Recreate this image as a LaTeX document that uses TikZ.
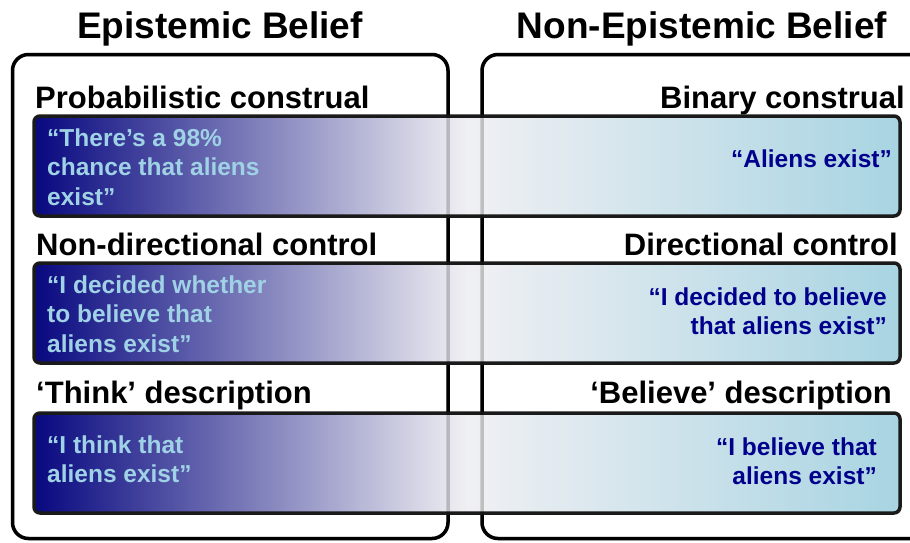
\documentclass[tikz,border=0pt]{standalone}
\usepackage{fontspec}
\setmainfont{Liberation Sans}
\usetikzlibrary{positioning}
\definecolor{barNavy}{RGB}{8,8,128}
\definecolor{barMist}{RGB}{240,240,243}
\definecolor{barSky}{RGB}{168,212,226}
\definecolor{quoteLight}{RGB}{160,210,230}
\definecolor{quoteDark}{RGB}{0,0,140}
\definecolor{edgeGray}{RGB}{26,26,26}

\begin{document}
\begin{tikzpicture}[x=1pt,y=-1pt,
  panel/.style={draw=black,line width=3.5pt,rounded corners=16pt},
  title/.style={font=\fontsize{37}{40}\selectfont\bfseries,inner sep=0pt,anchor=base},
  caption/.style={font=\fontsize{31}{34}\selectfont\bfseries,inner sep=0pt},
  bar/.style={draw=edgeGray,line width=3.5pt,rounded corners=6pt,outer sep=0pt,
    minimum width=866pt,minimum height=100pt,inner sep=0pt,
    left color=barNavy,right color=barSky,middle color=barMist},
  quote/.style={font=\fontsize{24.5}{29.5}\selectfont\bfseries,inner sep=0pt},
  epi/.style={quote,text=quoteLight,align=left,anchor=north west},
  nonepi/.style={quote,text=quoteDark,align=right,anchor=north east}
]
\useasboundingbox (0,0) rectangle (910,542);

% the two columns
\draw[panel] (12.5,54.5) rectangle (448,538.5);
\draw[panel] (482,54.5) rectangle (930,538.5);
\node[title] (epiT) at (220,38) {Epistemic Belief};
\node[title] (nonT) at (702,38) {Non-Epistemic Belief};

% the three contrast bars
\node[bar] (prob) at (467,166) {};
\node[bar] (ctrl) at (467,313) {};
\node[bar] (desc) at (467,463) {};

% column borders seen faintly through the bars
\draw[panel,draw opacity=0.2] (12.5,54.5) rectangle (448,538.5);
\draw[panel,draw opacity=0.2] (482,54.5) rectangle (930,538.5);

% row headings
\node[caption,anchor=base west] (probL) at ([xshift=1pt,yshift=8pt]prob.north west) {Probabilistic construal};
\node[caption,anchor=base east] (probR) at ([xshift=5pt,yshift=8pt]prob.north east) {Binary construal};
\node[caption,anchor=base west] (ctrlL) at ([xshift=2pt,yshift=8pt]ctrl.north west) {Non-directional control};
\node[caption,anchor=base east] (ctrlR) at ([xshift=-2pt,yshift=8pt]ctrl.north east) {Directional control};
\node[caption,anchor=base west] (descL) at ([xshift=2pt,yshift=10pt]desc.north west) {‘Think’ description};
\node[caption,anchor=base east] (descR) at ([xshift=-8pt,yshift=10pt]desc.north east) {‘Believe’ description};

% example statements
\node[epi] (probQ) at ([xshift=13pt,yshift=-12.5pt]prob.north west) {“There’s a 98\%\\chance that aliens\\exist”};
\node[nonepi] (binQ) at ([xshift=-8pt,yshift=-33.5pt]prob.north east) {“Aliens exist”};
\node[epi] (ndirQ) at ([xshift=13pt,yshift=-12.5pt]ctrl.north west) {“I decided whether\\to believe that\\aliens exist”};
\node[nonepi] (dirQ) at ([xshift=-13pt,yshift=-24.5pt]ctrl.north east) {“I decided to believe\\that aliens exist”};
\node[epi] (thinkQ) at ([xshift=13pt,yshift=-22.5pt]desc.north west) {“I think that\\aliens exist”};
\node[nonepi] (belQ) at ([xshift=-23pt,yshift=-24.5pt]desc.north east) {“I believe that\\aliens exist”};
\end{tikzpicture}
\end{document}
